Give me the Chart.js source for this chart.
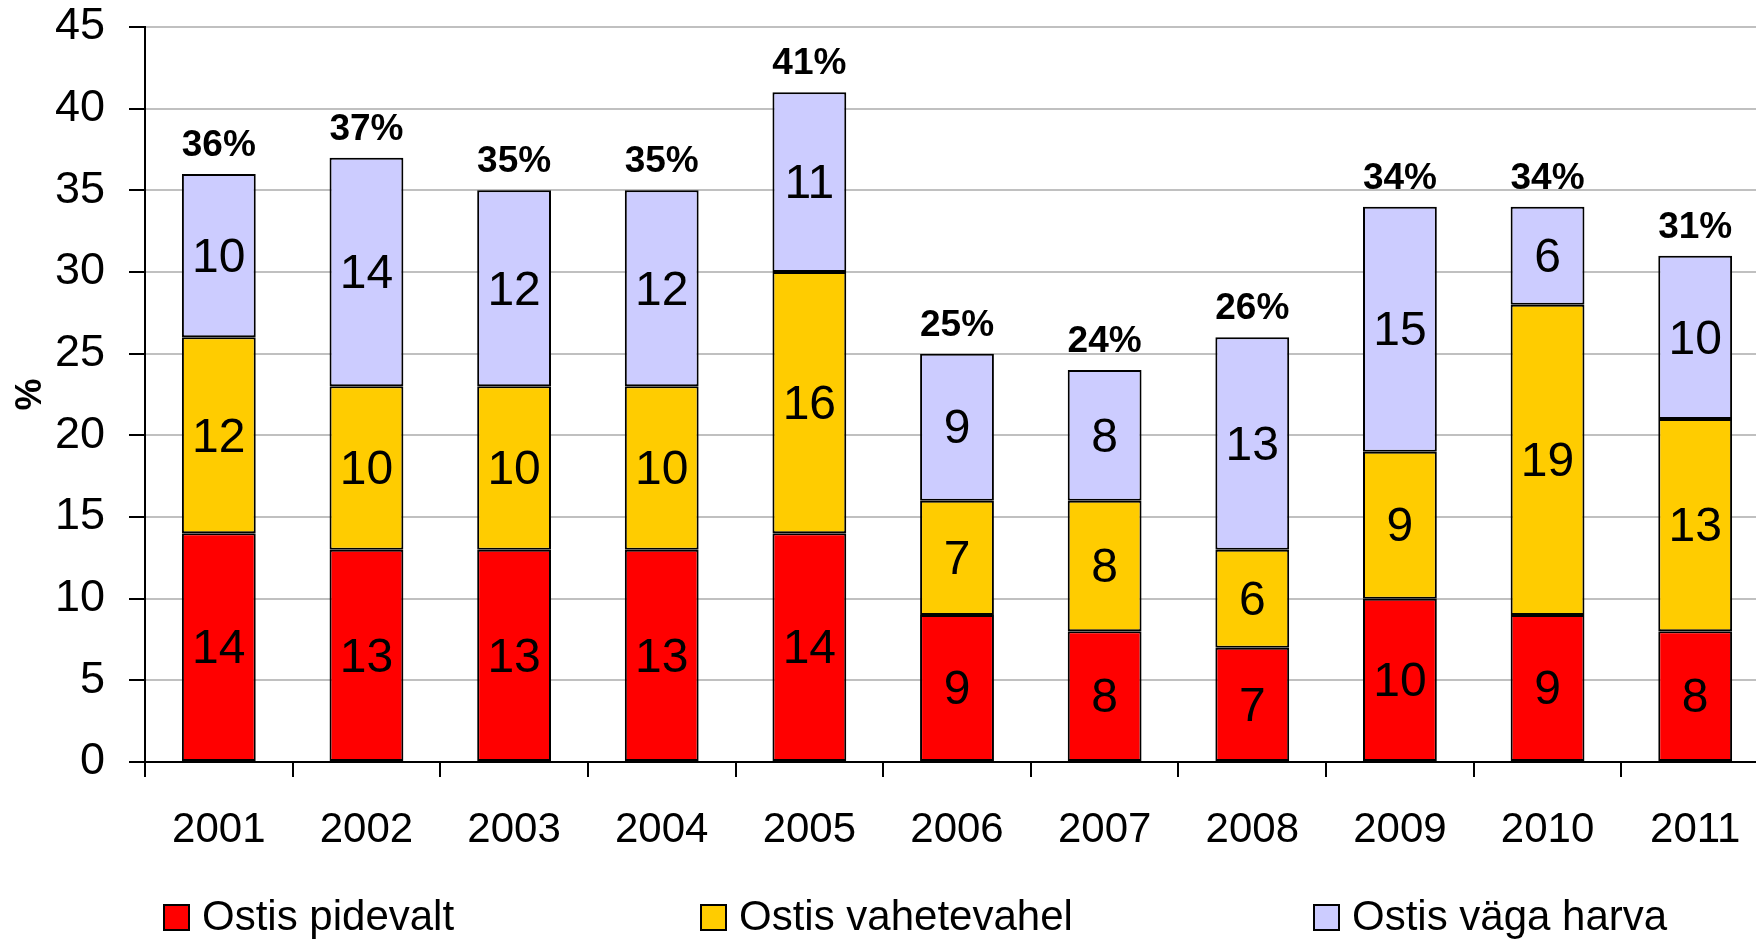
<!DOCTYPE html>
<html>
<head>
<meta charset="utf-8">
<script src="https://cdn.jsdelivr.net/npm/chart.js@4.4.0/dist/chart.umd.min.js"></script>
<style>
  html, body { margin: 0; padding: 0; background: #fff; overflow: hidden; }
  #wrap { position: relative; width: 1756px; height: 939px; overflow: hidden; }
  #graafik { position: absolute; left: 0; top: 0; }
  .legend { position: absolute; top: 892px; font-family: "Liberation Sans", Arial, sans-serif; font-size: 42px; color: #000; white-space: nowrap; line-height: 48px; }
  .legend span.kast { display: inline-block; width: 23px; height: 23px; border: 2px solid #000; vertical-align: -1px; margin-right: 12px; }
</style>
</head>
<body>
<div id="wrap">
  <canvas id="graafik" width="1770" height="939"></canvas>
  <div id="legend"></div>
</div>
<script>
// andmed
var aastad = ['2001', '2002', '2003', '2004', '2005', '2006', '2007', '2008', '2009', '2010', '2011'];
var pidevalt = [14, 13, 13, 13, 14, 9, 8, 7, 10, 9, 8];
var vahetevahel = [12, 10, 10, 10, 16, 7, 8, 6, 9, 19, 13];
var harva = [10, 14, 12, 12, 11, 9, 8, 13, 15, 6, 10];
var seeriad = ['Ostis pidevalt', 'Ostis vahetevahel', 'Ostis väga harva'];
var varvid = ['#FF0000', '#FFCC00', '#CCCCFF'];

var kiri = '"Liberation Sans", Arial, sans-serif';

// väärtused tulpade sisse ja summad peale
var siltidePlugin = {
  id: 'sildid',
  afterDatasetsDraw: function(chart) {
    var ctx = chart.ctx;
    ctx.save();
    ctx.fillStyle = '#000';
    ctx.textAlign = 'center';
    ctx.textBaseline = 'middle';
    ctx.font = '48px ' + kiri;
    chart.data.datasets.forEach(function(ds, i) {
      var meta = chart.getDatasetMeta(i);
      meta.data.forEach(function(bar, j) {
        ctx.fillText(ds.data[j], bar.x, (bar.y + bar.base) / 2 + 3);
      });
    });
    var viimane = chart.getDatasetMeta(chart.data.datasets.length - 1);
    ctx.font = 'bold 37px ' + kiri;
    ctx.textBaseline = 'alphabetic';
    viimane.data.forEach(function(bar, j) {
      var summa = 0;
      chart.data.datasets.forEach(function(ds) { summa += ds.data[j]; });
      ctx.fillText(summa + '%', bar.x, bar.y - 18);
    });
    ctx.restore();
  }
};

var andmed = [pidevalt, vahetevahel, harva];

new Chart(document.getElementById('graafik'), {
  type: 'bar',
  data: {
    labels: aastad,
    datasets: andmed.map(function(d, i) {
      return {
        label: seeriad[i],
        data: d,
        backgroundColor: varvid[i],
        borderColor: '#000',
        borderWidth: 2,
        borderSkipped: false,
        categoryPercentage: 0.5,
        barPercentage: 1
      };
    })
  },
  options: {
    responsive: false,
    animation: false,
    layout: { padding: { top: 27, bottom: 85, left: 0, right: 1 } },
    plugins: {
      legend: { display: false },
      tooltip: { enabled: false }
    },
    scales: {
      x: {
        stacked: true,
        afterFit: function(scale) { scale.height = 92; },
        grid: { offset: true, drawOnChartArea: false, color: '#000', tickColor: '#000', tickLength: 15, lineWidth: 2 },
        border: { color: '#000', width: 2 },
        ticks: { color: '#000', font: { family: kiri, size: 42 }, padding: 28 }
      },
      y: {
        stacked: true,
        min: 0,
        max: 45,
        afterFit: function(scale) {
          scale.width = 145;
          scale.paddingTop = 0;
          scale.paddingBottom = 0;
        },
        ticks: { stepSize: 5, color: '#000', font: { family: kiri, size: 45 }, padding: 24 },
        grid: { color: '#c0c0c0', tickColor: '#000', tickLength: 16, lineWidth: 2 },
        border: { color: '#000', width: 2 },
        title: { display: true, text: '%', color: '#000', font: { family: kiri, size: 36, weight: 'bold' }, padding: { top: 9, bottom: 0 } }
      }
    }
  },
  plugins: [siltidePlugin]
});

// legend all
var legendiX = [163, 700, 1313];
var leg = document.getElementById('legend');
seeriad.forEach(function(nimi, i) {
  var el = document.createElement('div');
  el.className = 'legend';
  el.style.left = legendiX[i] + 'px';
  el.innerHTML = '<span class="kast" style="background:' + varvid[i] + '"></span>' + nimi;
  leg.appendChild(el);
});
</script>
</body>
</html>
